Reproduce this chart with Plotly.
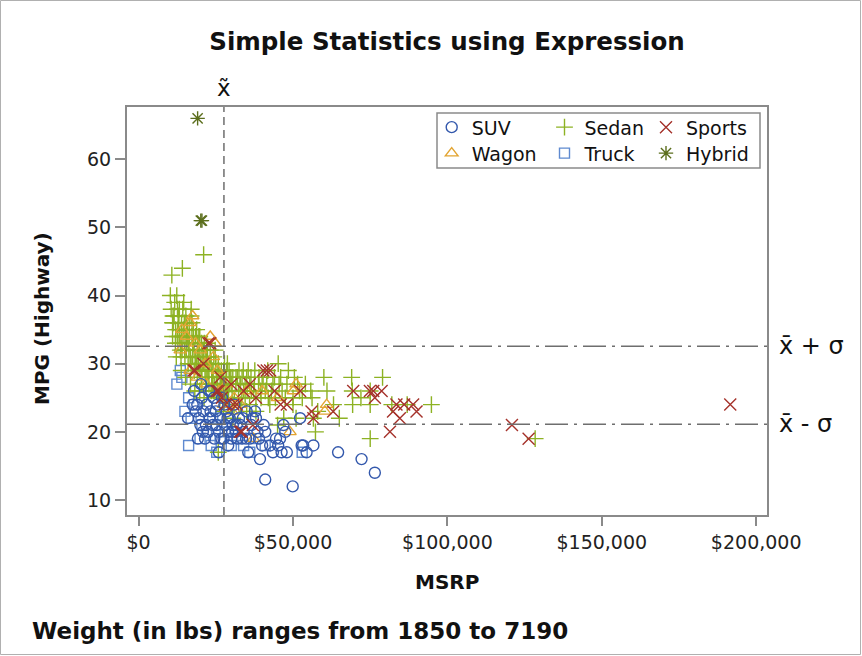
import plotly.graph_objects as go

# ---------------- data ----------------
suv_msrp = [16000, 17500, 18000, 19000, 19200, 19500, 20000, 20200, 20500, 21000,
            21500, 22000, 22500, 22800, 23000, 23500, 24000, 24500, 25000, 25500,
            26000, 26000, 26500, 27000, 27500, 28000, 28500, 29000, 29000, 29500,
            30000, 30500, 31000, 31500, 32000, 32500, 33000, 33500, 34000, 35000,
            35500, 36000, 37000, 37700, 38500, 39300, 40000, 41000, 41000, 42600,
            45200, 45800, 46300, 46900, 48000, 49900, 52300, 52800, 53300, 54400,
            56600, 64600, 72200, 76500,
            18500, 20800, 21800, 23300, 24300, 25200, 26800, 27800, 28800, 30300,
            31800, 33800, 34800, 36500, 38000, 39000, 40500, 43500, 44500, 47500]
suv_mpg = [22, 24, 26, 24, 19, 22, 21, 27, 25, 23,
           19, 24, 20, 26, 22, 26, 21, 19, 23, 24,
           20, 17, 22, 25, 19, 21, 23, 20, 18, 22,
           19, 21, 24, 20, 19, 22, 21, 19, 20, 23,
           17, 19, 22, 23, 20, 16, 18, 20, 13, 18,
           18, 19, 17, 21, 17, 12, 22, 18, 18, 17,
           18, 17, 16, 14,
           23, 20, 21, 23, 25, 21, 19, 24, 22, 20,
           21, 22, 19, 21, 22, 19, 21, 17, 19, 20]

sedan_msrp = [10280, 10540, 10760, 10995, 11155, 11290, 11690, 11905, 12360, 12585,
              12740, 12800, 12965, 13270, 13670, 13730, 13840, 14085, 14170, 14300,
              14610, 14810, 15030, 15460, 15495, 15568, 15850, 16040, 16265, 16385,
              16695, 16999, 17035, 17262, 17495, 17735, 17985, 18435, 18715, 18995,
              19110, 19270, 19635, 19860, 20220, 20370, 20510, 20800, 21055, 21087,
              21560, 21840, 22010, 22180, 22450, 22775, 23195, 23495, 23675, 23910,
              24130, 24345, 24690, 24895, 25135, 25520, 25700, 26060, 26470, 26880,
              27350, 27560, 28010, 28345, 28750, 29120, 29440, 29865, 30295, 30920,
              31545, 32350, 32845, 33430, 33895, 34495, 35145, 35940, 36395, 37245,
              37630, 38830, 39640, 40320, 41010, 41815, 42490, 43495, 44295, 45210,
              46470, 48040, 49995, 50450, 52120, 55750, 56170, 56595, 57270, 59995,
              63120, 65000, 68995, 69190, 69310, 74995, 74995, 75000, 86970, 94820,
              128420,
              12000, 12500, 13000, 13500, 14000, 14500, 15000, 15500, 16000, 16500,
              17000, 17500, 18000, 18500, 19000, 19500, 20000, 20500, 21000, 21500,
              22000, 22500, 23000, 23500, 24000, 24500, 25000, 25500, 26000, 26500,
              27000, 27500, 28000, 28500, 29000, 29500, 30000, 31000, 32000, 33000,
              34000, 35000, 36000, 38000, 39000, 40000, 42000, 44000, 46000, 47500,
              51500, 53000,
              13800, 15200, 16800, 18200, 19800, 21200, 25800, 27500, 30500, 33000,
              35000, 38000, 45000, 47000, 51000,
              11000, 11500, 12200, 12700, 13200, 13900, 14400, 14900, 15300, 15800,
              16300, 16800, 17300, 17800, 18300, 18800, 19300, 19800, 20300, 20800,
              21300, 21800, 22300, 22800, 23300, 23800, 24300, 24800, 25300, 25800,
              26300, 26800, 27300, 27800, 28300, 28800, 29300, 30500, 31500, 32500,
              33500, 34500, 35500, 36500, 37500, 39500, 41500, 43000, 45500, 48500,
              50000, 54000, 58000, 61000, 72000, 79000, 82000]
sedan_mpg = [40, 38, 43, 36, 37, 36, 39, 33, 40, 38,
             33, 36, 37, 34, 33, 31, 35, 32, 44, 38,
             39, 36, 34, 32, 33, 35, 34, 30, 32, 36,
             31, 37, 38, 34, 31, 35, 32, 34, 30, 32,
             33, 30, 32, 29, 31, 33, 29, 32, 46, 30,
             31, 28, 33, 29, 30, 27, 32, 30, 28, 27,
             29, 31, 26, 30, 28, 27, 29, 26, 28, 27,
             25, 29, 27, 26, 30, 25, 27, 28, 26, 24,
             28, 26, 27, 25, 29, 27, 26, 24, 28, 26,
             29, 27, 25, 28, 26, 29, 24, 27, 25, 30,
             26, 27, 24, 28, 26, 26, 25, 22, 20, 28,
             24, 22, 28, 26, 24, 26, 24, 19, 24, 24,
             19,
             35, 34, 36, 32, 33, 35, 31, 36, 33, 34,
             30, 33, 29, 31, 28, 34, 30, 27, 32, 29,
             31, 28, 30, 26, 28, 27, 30, 26, 29, 27,
             28, 26, 25, 29, 26, 28, 27, 25, 28, 27,
             26, 28, 27, 25, 28, 27, 25, 28, 28, 25,
             27, 25,
             29, 28, 27, 26, 26, 25, 17, 23, 22, 24,
             23, 23, 21, 22, 22,
             34, 37, 31, 35, 38, 36, 34, 32, 37, 35,
             33, 31, 36, 33, 30, 35, 31, 34, 28, 30,
             33, 27, 32, 29, 31, 29, 26, 32, 28, 30,
             25, 29, 27, 30, 28, 26, 29, 28, 27, 29,
             28, 25, 29, 26, 27, 26, 27, 26, 27, 29,
             25, 27, 23, 26, 25, 28, 24]

sports_msrp = [17800, 18300, 21000, 22600, 23200, 25300, 25900, 26500, 27000, 28000,
               30000, 30700, 31800, 32900, 33400, 34000, 36000, 37000, 38000, 40400,
               41500, 42600, 44000, 46000, 48000, 52300, 56000, 56600, 63000, 69500,
               74900, 76000, 76500, 78700, 81400, 82400, 83500, 84600, 86000, 88900,
               90000, 120900, 126300, 191600]
sports_mpg = [29, 29, 30, 33, 33, 26, 26, 28, 25, 24,
              27, 24, 24, 20, 20, 26, 27, 21, 25, 29,
              29, 29, 26, 24, 24, 26, 23, 22, 23, 26,
              26, 26, 25, 26, 20, 23, 24, 22, 24, 24,
              23, 21, 19, 24]

wagon_msrp = [13500, 14000, 15500, 16700, 17500, 16700, 18500, 19000, 20000, 21500,
              22000, 23200, 24200, 24800, 25500, 26000, 27500, 28500, 30200, 31000,
              33000, 35000, 37200, 40000, 45000, 49000, 50100, 51000, 60300, 60900]
wagon_mpg = [32, 35, 34, 36, 37, 29, 33, 28, 32, 30,
             27, 34, 31, 33, 29, 26, 24, 27, 23, 25,
             24, 26, 19, 26, 25, 20, 26, 27, 23, 24]

truck_msrp = [12400, 13500, 14000, 15000, 16200, 16200, 17000, 18000, 19900, 20500,
              22000, 23500, 24000, 25300, 26400, 27000, 28000, 30000, 32000, 34000,
              36000, 38000, 41000, 52975]
truck_mpg = [27, 29, 28, 23, 25, 18, 22, 24, 19, 21,
             20, 18, 22, 17, 19, 21, 20, 18, 19, 18,
             17, 19, 18, 17]

hybrid_msrp = [19110, 20140, 20510]
hybrid_mpg = [66, 51, 51]

# statistics shown by the reference lines
median_msrp = 27635
mpg_mean_plus_sd = 32.58
mpg_mean_minus_sd = 21.10

x_ticks = [0, 50000, 100000, 150000, 200000]
x_tick_labels = ["$0", "$50,000", "$100,000", "$150,000", "$200,000"]
y_ticks = [10, 20, 30, 40, 50, 60]

# ---------------- figure ----------------
FONT = "DejaVu Sans"
W, H = 862, 656
ML, MR, MT, MB = 127, 95, 107, 141
PW, PH = W - ML - MR, H - MT - MB

def px_x(p):
    return (p - ML) / PW

def px_y(p):
    return (H - MB - p) / PH

groups = [
    ("Truck", truck_msrp, truck_mpg, "square-open", "#5F8AD0", 10, "legend5"),
    ("Sedan", sedan_msrp, sedan_mpg, "cross-thin-open", "#8DB223", 12, "legend2"),
    ("Wagon", wagon_msrp, wagon_mpg, "triangle-up-open", "#E2A431", 11, "legend4"),
    ("SUV", suv_msrp, suv_mpg, "circle-open", "#3358AC", 11, "legend"),
    ("Sports", sports_msrp, sports_mpg, "x-thin-open", "#A5322B", 12, "legend3"),
    ("Hybrid", hybrid_msrp, hybrid_mpg, "asterisk-open", "#5B6E1C", 12, "legend6"),
]

fig = go.Figure()
for name, xs, ys, sym, col, sz, leg in groups:
    fig.add_trace(go.Scatter(
        x=xs, y=ys, mode="markers", name=name, legend=leg, showlegend=True,
        marker=dict(symbol=sym, size=sz, color=col, line=dict(width=1.4, color=col)),
    ))

# reference lines
fig.add_shape(type="line", xref="x", yref="y domain", x0=median_msrp, x1=median_msrp,
              y0=0, y1=1, line=dict(color="#6E6E6E", width=1.5, dash="8px,5px"))
for v in (mpg_mean_plus_sd, mpg_mean_minus_sd):
    fig.add_shape(type="line", xref="x domain", yref="y", x0=0, x1=1, y0=v, y1=v,
                  line=dict(color="#6E6E6E", width=1.5, dash="23px,6px,3px,6px"))

# legend box
fig.add_shape(type="rect", xref="paper", yref="paper",
              x0=px_x(437), x1=px_x(760), y0=px_y(168), y1=px_y(113),
              line=dict(color="#8A8A8A", width=1.5), layer="above")
# outer frame of the image
fig.add_shape(type="rect", xref="paper", yref="paper",
              x0=px_x(0.5), x1=px_x(W - 1.5), y0=px_y(H - 1.5), y1=px_y(0.5),
              line=dict(color="#B0B0B0", width=1), layer="above")

ann = []
ann.append(dict(text="x\u0303", x=median_msrp, xref="x", y=px_y(88), yref="paper",
                showarrow=False, font=dict(size=23, color="#111", family=FONT),
                xanchor="center", yanchor="middle"))
ann.append(dict(text="x\u0304 + \u03c3", x=px_x(777), xref="paper", y=mpg_mean_plus_sd, yref="y",
                showarrow=False, font=dict(size=24, color="#111", family=FONT),
                xanchor="left", yanchor="middle"))
ann.append(dict(text="x\u0304 - \u03c3", x=px_x(777), xref="paper", y=mpg_mean_minus_sd, yref="y",
                showarrow=False, font=dict(size=24, color="#111", family=FONT),
                xanchor="left", yanchor="middle"))
ann.append(dict(text="<b>MSRP</b>", x=0.5, xref="paper", y=px_y(582), yref="paper",
                showarrow=False, font=dict(size=20, color="#111", family=FONT),
                xanchor="center", yanchor="middle"))
ann.append(dict(text="<b>MPG (Highway)</b>", x=px_x(42), xref="paper", y=px_y(319), yref="paper",
                showarrow=False, textangle=-90, font=dict(size=20, color="#111", family=FONT),
                xanchor="center", yanchor="middle"))
ann.append(dict(text="<b>Weight (in lbs) ranges from 1850 to 7190</b>", x=px_x(30), xref="paper",
                y=px_y(631), yref="paper", showarrow=False,
                font=dict(size=23, color="#111", family=FONT), xanchor="left", yanchor="middle"))

legend_common = dict(orientation="h", bgcolor="rgba(0,0,0,0)", borderwidth=0,
                     font=dict(size=19, color="#111", family=FONT), itemwidth=30,
                     xanchor="left", yanchor="middle", xref="paper", yref="paper",
                     visible=True)
col_x = [px_x(431.7), px_x(544.5), px_x(646)]
row_y = [px_y(127.3), px_y(153.3)]

fig.update_layout(
    width=W, height=H, showlegend=True,
    margin=dict(l=ML, r=MR, t=MT, b=MB),
    paper_bgcolor="white", plot_bgcolor="white",
    font=dict(family=FONT, size=19, color="#222"),
    title=dict(text="<b>Simple Statistics using Expression</b>", x=0.5, xref="paper",
               y=1 - 41 / H, yref="container", xanchor="center", yanchor="middle",
               font=dict(size=24.5, color="#111", family=FONT)),
    xaxis=dict(range=[-3760, 203500], tickvals=x_ticks, ticktext=x_tick_labels,
               showgrid=False, zeroline=False, showline=True, mirror=True,
               linecolor="#8A8A8A", linewidth=2, ticks="outside", ticklen=9,
               tickcolor="#8A8A8A", tickwidth=1.5, tickfont=dict(size=19, color="#222")),
    yaxis=dict(range=[7.8, 67.67], tickvals=y_ticks, showgrid=False, zeroline=False,
               showline=True, mirror=True, linecolor="#8A8A8A", linewidth=2,
               ticks="outside", ticklen=10, tickcolor="#8A8A8A", tickwidth=1.5,
               tickfont=dict(size=19, color="#222")),
    annotations=ann,
    legend=dict(x=col_x[0], y=row_y[0], **legend_common),
    legend2=dict(x=col_x[1], y=row_y[0], **legend_common),
    legend3=dict(x=col_x[2], y=row_y[0], **legend_common),
    legend4=dict(x=col_x[0], y=row_y[1], **legend_common),
    legend5=dict(x=col_x[1], y=row_y[1], **legend_common),
    legend6=dict(x=col_x[2], y=row_y[1], **legend_common),
)

fig.write_html("out.html")
